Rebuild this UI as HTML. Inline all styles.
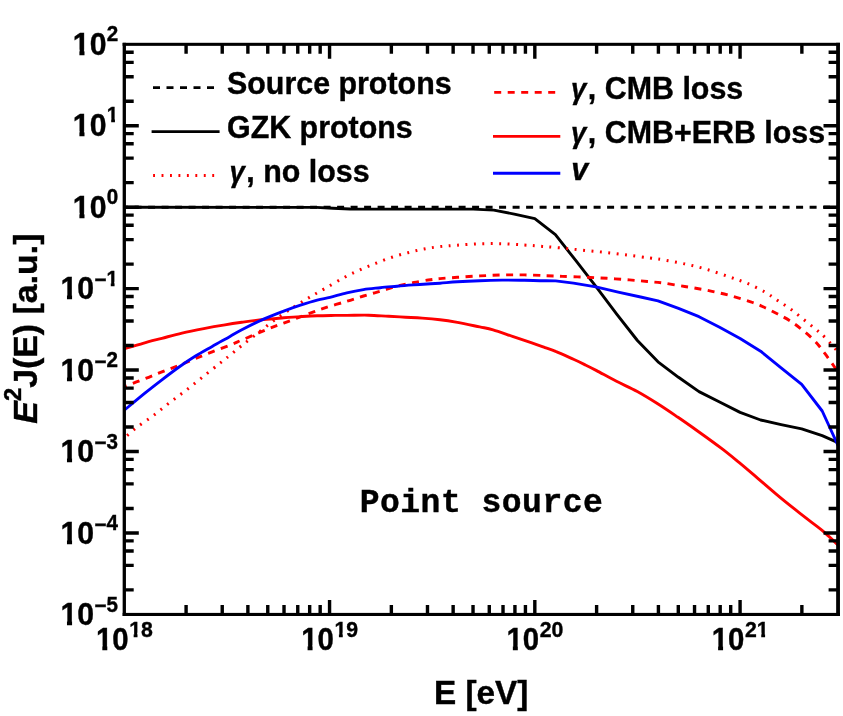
<!DOCTYPE html>
<html><head><meta charset="utf-8"><title>Point source</title>
<style>html,body{margin:0;padding:0;background:#fff;}body{width:843px;height:716px;overflow:hidden;}svg{display:block;}svg text{stroke:#000;stroke-width:0.4px;font-family:"Liberation Sans",sans-serif;font-weight:bold;fill:#000;}.m{font-family:"Liberation Mono",monospace;font-weight:bold;}.i{font-style:italic;}</style></head><body>
<svg style="will-change:transform" width="843" height="716" viewBox="0 0 843 716">
<rect width="843" height="716" fill="#fff"/>
<clipPath id="c"><rect x="124.3" y="44.3" width="713.7" height="570.1"/></clipPath>
<g clip-path="url(#c)" fill="none" stroke-linejoin="round">
<path d="M124.3,207.3 H838.0" stroke="#000" stroke-width="2.9" stroke-dasharray="7.0 6.5" stroke-dashoffset="-10.30"/>
<path d="M124.3,207.3 L316.0,207.4 L333.0,208.2 L350.0,209.0 L473.2,209.1 L493.8,210.1 L514.3,214.1 L534.8,218.6 L555.4,234.6 L575.9,260.7 L596.4,287.2 L616.9,314.3 L637.4,340.5 L658.0,361.8 L678.5,377.3 L699.0,391.6 L719.6,402.0 L740.1,412.4 L760.6,420.0 L781.1,424.6 L801.7,428.9 L822.2,435.7 L838.0,442.6" stroke="#000" stroke-width="2.9"/>
<path d="M124.3,438.0 C126.4,436.2 131.9,431.1 136.8,427.3 C141.7,423.6 147.9,419.7 153.5,415.5 C159.1,411.3 164.7,406.4 170.3,402.1 C175.9,397.8 181.5,393.8 187.1,389.5 C192.7,385.2 198.2,380.6 203.8,376.1 C209.4,371.6 216.2,366.2 220.6,362.7 C225.0,359.2 226.5,358.1 230.0,355.2 C233.5,352.3 237.1,349.3 241.8,345.5 C246.6,341.7 252.9,336.8 258.5,332.5 C264.1,328.2 269.7,323.6 275.3,319.5 C280.9,315.4 286.5,311.8 292.1,308.2 C297.7,304.6 303.2,301.0 308.8,297.7 C314.4,294.4 319.6,291.6 325.6,288.1 C331.7,284.7 339.2,280.1 345.1,277.0 C351.0,273.9 355.8,271.7 361.0,269.4 C366.2,267.1 370.9,265.2 376.1,263.2 C381.3,261.2 386.7,258.9 392.0,257.2 C397.3,255.4 402.7,254.1 408.0,252.7 C413.3,251.3 418.6,250.0 423.9,249.0 C429.2,248.0 434.4,247.2 440.0,246.6 C445.6,246.0 450.8,245.7 457.4,245.2 C464.0,244.7 472.2,244.1 479.7,243.8 C487.1,243.6 494.7,243.5 502.1,243.7 C509.6,243.9 517.7,244.6 524.4,245.0 C531.1,245.4 536.0,245.9 542.3,246.4 C548.6,246.9 555.3,247.4 562.4,248.1 C569.5,248.8 577.2,249.7 584.7,250.4 C592.2,251.2 599.7,251.8 607.1,252.6 C614.5,253.4 622.2,254.4 629.4,255.3 C636.5,256.2 644.5,257.3 650.0,258.0 C655.5,258.7 656.6,258.7 662.4,259.7 C668.2,260.7 677.2,262.3 684.7,263.9 C692.2,265.5 699.7,267.3 707.1,269.5 C714.5,271.7 722.7,274.6 729.4,276.9 C736.1,279.2 741.3,280.9 747.3,283.4 C753.2,285.9 760.0,289.2 765.1,292.1 C770.2,295.0 773.5,297.7 777.7,300.5 C781.9,303.3 786.1,305.8 790.3,308.9 C794.5,311.9 798.6,315.4 802.8,318.8 C807.0,322.2 811.6,325.8 815.4,329.0 C819.2,332.2 821.6,334.0 825.4,337.8 C829.2,341.6 835.9,349.6 838.0,352.0" stroke="#f00" stroke-width="3.0" stroke-dasharray="1.9 6.52" stroke-dashoffset="-3.8"/>
<path d="M124.3,386.5 C127.8,385.2 138.9,381.0 145.2,378.6 C151.5,376.2 156.3,374.1 161.9,371.9 C167.5,369.7 173.1,367.7 178.7,365.5 C184.3,363.3 189.9,360.8 195.5,358.5 C201.1,356.2 206.4,354.0 212.2,351.8 C217.9,349.6 225.1,347.1 230.0,345.1 C234.9,343.2 237.1,342.1 241.8,340.1 C246.6,338.1 252.9,335.2 258.5,332.9 C264.1,330.6 269.7,328.3 275.3,326.2 C280.9,324.1 286.5,322.1 292.1,320.0 C297.7,317.9 303.2,315.7 308.8,313.6 C314.4,311.6 319.3,309.8 325.6,307.7 C331.9,305.6 340.5,303.2 346.8,301.3 C353.1,299.4 357.9,297.7 363.5,296.0 C369.1,294.3 374.7,292.8 380.3,291.2 C385.9,289.6 391.5,287.6 397.1,286.2 C402.7,284.8 408.2,283.6 413.8,282.5 C419.4,281.4 426.2,280.3 430.6,279.7 C435.0,279.1 435.5,279.0 440.0,278.6 C444.5,278.2 450.8,277.8 457.4,277.3 C464.0,276.9 472.2,276.3 479.7,275.9 C487.1,275.5 494.7,275.2 502.1,275.0 C509.6,274.8 517.0,274.8 524.4,274.9 C531.8,275.0 540.4,275.4 546.7,275.7 C553.0,275.9 556.1,276.1 562.4,276.4 C568.7,276.6 577.2,276.9 584.7,277.2 C592.2,277.5 599.7,277.9 607.1,278.3 C614.5,278.8 622.7,279.4 629.4,279.9 C636.1,280.4 641.8,281.0 647.3,281.5 C652.8,282.0 656.2,282.1 662.4,282.9 C668.6,283.7 677.2,285.3 684.7,286.5 C692.2,287.7 699.7,288.8 707.1,290.3 C714.5,291.8 721.8,293.4 729.4,295.4 C737.0,297.4 746.6,300.4 752.6,302.5 C758.6,304.6 760.9,305.8 765.1,307.7 C769.3,309.6 773.5,311.8 777.7,314.0 C781.9,316.2 786.1,318.3 790.3,321.0 C794.5,323.7 798.6,326.9 802.8,330.3 C807.0,333.7 811.6,337.6 815.4,341.6 C819.2,345.6 821.6,349.1 825.4,354.2 C829.2,359.3 835.9,369.0 838.0,372.0" stroke="#f00" stroke-width="2.9" stroke-dasharray="7.0 6.5" stroke-dashoffset="4.3"/>
<path d="M124.3,348.9 C127.4,348.0 136.7,345.1 143.0,343.3 C149.3,341.5 155.4,340.0 161.9,338.3 C168.4,336.6 175.0,334.7 182.0,333.1 C189.0,331.5 196.6,330.0 203.8,328.6 C211.0,327.2 218.7,325.9 225.0,324.9 C231.3,323.8 235.4,323.2 241.8,322.3 C248.2,321.4 256.6,320.2 263.6,319.5 C270.6,318.8 277.6,318.3 283.7,317.8 C289.8,317.3 294.9,316.9 300.5,316.6 C306.1,316.3 311.4,316.0 317.2,315.8 C322.9,315.6 330.1,315.5 335.0,315.4 C339.9,315.3 341.2,315.4 346.8,315.4 C352.4,315.4 361.6,315.0 368.6,315.2 C375.6,315.4 382.6,316.0 388.7,316.3 C394.8,316.6 399.9,316.9 405.5,317.2 C411.1,317.5 416.4,317.7 422.2,318.1 C427.9,318.5 434.1,319.0 440.0,319.7 C445.9,320.4 450.8,321.2 457.4,322.4 C464.0,323.6 473.8,325.7 479.7,326.9 C485.6,328.1 487.5,328.2 493.1,329.8 C498.7,331.4 506.9,334.5 513.2,336.6 C519.5,338.7 525.8,340.8 531.1,342.6 C536.4,344.4 540.9,346.1 545.0,347.6 C549.1,349.1 550.9,349.4 555.6,351.4 C560.4,353.3 568.6,357.1 573.5,359.3 C578.4,361.5 580.9,362.7 584.7,364.6 C588.6,366.5 591.3,367.8 596.6,370.6 C601.9,373.4 609.7,377.8 616.5,381.3 C623.3,384.8 630.4,387.7 637.3,391.5 C644.2,395.3 651.3,399.7 658.1,404.0 C664.9,408.3 671.4,412.8 678.0,417.3 C684.6,421.8 690.7,426.1 697.9,431.2 C705.1,436.3 714.3,442.9 721.2,448.2 C728.1,453.4 733.2,457.7 739.3,462.7 C745.3,467.7 751.5,473.0 757.5,478.1 C763.5,483.2 769.6,488.6 775.6,493.6 C781.6,498.7 787.7,503.6 793.8,508.4 C799.9,513.2 806.9,518.6 812.0,522.6 C817.1,526.6 820.4,528.9 824.7,532.6 C829.0,536.3 835.8,542.9 838.0,545.0" stroke="#f00" stroke-width="2.9"/>
<path d="M124.3,410.2 C127.8,407.3 138.9,398.0 145.2,392.9 C151.5,387.8 156.3,384.1 161.9,379.8 C167.5,375.5 173.1,371.2 178.7,367.2 C184.3,363.2 189.9,359.5 195.5,356.0 C201.1,352.5 206.4,349.7 212.2,346.4 C217.9,343.1 225.1,339.2 230.0,336.4 C234.9,333.6 236.2,332.6 241.8,329.7 C247.4,326.8 256.6,322.2 263.6,319.1 C270.6,316.0 277.6,313.4 283.7,311.1 C289.8,308.8 294.9,307.0 300.5,305.2 C306.1,303.4 312.3,301.5 317.2,300.2 C322.1,298.9 325.1,298.5 330.0,297.3 C334.9,296.1 341.2,294.2 346.8,292.9 C352.4,291.6 357.9,290.5 363.5,289.6 C369.1,288.7 374.7,288.3 380.3,287.7 C385.9,287.1 391.5,286.7 397.1,286.2 C402.7,285.7 408.2,285.3 413.8,284.9 C419.4,284.5 426.2,284.1 430.6,283.8 C435.0,283.5 435.5,283.5 440.0,283.2 C444.5,282.9 450.8,282.2 457.4,281.8 C464.0,281.4 472.2,281.0 479.7,280.7 C487.1,280.4 494.7,280.2 502.1,280.1 C509.6,280.0 518.1,280.2 524.4,280.3 C530.7,280.4 534.8,280.6 540.0,280.7 C545.2,280.8 553.0,280.9 555.6,280.9 L573.5,283.1 L595.9,286.9 L618.2,292.1 L640.6,297.0 L658.0,300.8 L678.5,308.4 L699.0,316.7 L719.6,327.3 L740.1,338.5 L760.6,351.2 L781.1,367.8 L801.7,384.4 L822.2,411.0 L838.0,445.5" stroke="#00f" stroke-width="2.9"/>
</g>
<g stroke="#000" stroke-width="3.4" fill="none" stroke-linecap="butt">
</g><g fill="#000">
<rect x="122.65" y="42.8" width="3.3" height="573.2"/>
<rect x="836.15" y="42.8" width="3.8" height="573.2"/>
<rect x="122.65" y="42.8" width="717.3" height="3.05"/>
<rect x="122.65" y="612.9" width="717.3" height="3.1"/>
</g><g stroke="#000" stroke-width="3.4" fill="none" stroke-linecap="butt">
<path d="M124.30,589.88 h9.4 M838.00,589.88 h-9.4 M124.30,565.37 h9.4 M838.00,565.37 h-9.4 M124.30,551.03 h9.4 M838.00,551.03 h-9.4 M124.30,540.85 h9.4 M838.00,540.85 h-9.4 M124.30,532.96 h14.5 M838.00,532.96 h-14.5 M124.30,508.44 h9.4 M838.00,508.44 h-9.4 M124.30,483.92 h9.4 M838.00,483.92 h-9.4 M124.30,469.58 h9.4 M838.00,469.58 h-9.4 M124.30,459.41 h9.4 M838.00,459.41 h-9.4 M124.30,451.51 h14.5 M838.00,451.51 h-14.5 M124.30,427.00 h9.4 M838.00,427.00 h-9.4 M124.30,402.48 h9.4 M838.00,402.48 h-9.4 M124.30,388.14 h9.4 M838.00,388.14 h-9.4 M124.30,377.96 h9.4 M838.00,377.96 h-9.4 M124.30,370.07 h14.5 M838.00,370.07 h-14.5 M124.30,345.55 h9.4 M838.00,345.55 h-9.4 M124.30,321.04 h9.4 M838.00,321.04 h-9.4 M124.30,306.70 h9.4 M838.00,306.70 h-9.4 M124.30,296.52 h9.4 M838.00,296.52 h-9.4 M124.30,288.63 h14.5 M838.00,288.63 h-14.5 M124.30,264.11 h9.4 M838.00,264.11 h-9.4 M124.30,239.60 h9.4 M838.00,239.60 h-9.4 M124.30,225.25 h9.4 M838.00,225.25 h-9.4 M124.30,215.08 h9.4 M838.00,215.08 h-9.4 M124.30,207.19 h14.5 M838.00,207.19 h-14.5 M124.30,182.67 h9.4 M838.00,182.67 h-9.4 M124.30,158.15 h9.4 M838.00,158.15 h-9.4 M124.30,143.81 h9.4 M838.00,143.81 h-9.4 M124.30,133.64 h9.4 M838.00,133.64 h-9.4 M124.30,125.74 h14.5 M838.00,125.74 h-14.5 M124.30,101.23 h9.4 M838.00,101.23 h-9.4 M124.30,76.71 h9.4 M838.00,76.71 h-9.4 M124.30,62.37 h9.4 M838.00,62.37 h-9.4 M124.30,52.19 h9.4 M838.00,52.19 h-9.4 M186.09,614.40 v-9.4 M186.09,44.30 v9.4 M222.23,614.40 v-9.4 M222.23,44.30 v9.4 M247.88,614.40 v-9.4 M247.88,44.30 v9.4 M267.77,614.40 v-9.4 M267.77,44.30 v9.4 M284.02,614.40 v-9.4 M284.02,44.30 v9.4 M297.76,614.40 v-9.4 M297.76,44.30 v9.4 M309.67,614.40 v-9.4 M309.67,44.30 v9.4 M320.17,614.40 v-9.4 M320.17,44.30 v9.4 M329.56,614.40 v-14.5 M329.56,44.30 v14.5 M391.35,614.40 v-9.4 M391.35,44.30 v9.4 M427.49,614.40 v-9.4 M427.49,44.30 v9.4 M453.14,614.40 v-9.4 M453.14,44.30 v9.4 M473.03,614.40 v-9.4 M473.03,44.30 v9.4 M489.28,614.40 v-9.4 M489.28,44.30 v9.4 M503.02,614.40 v-9.4 M503.02,44.30 v9.4 M514.93,614.40 v-9.4 M514.93,44.30 v9.4 M525.43,614.40 v-9.4 M525.43,44.30 v9.4 M534.82,614.40 v-14.5 M534.82,44.30 v14.5 M596.61,614.40 v-9.4 M596.61,44.30 v9.4 M632.75,614.40 v-9.4 M632.75,44.30 v9.4 M658.40,614.40 v-9.4 M658.40,44.30 v9.4 M678.29,614.40 v-9.4 M678.29,44.30 v9.4 M694.54,614.40 v-9.4 M694.54,44.30 v9.4 M708.28,614.40 v-9.4 M708.28,44.30 v9.4 M720.19,614.40 v-9.4 M720.19,44.30 v9.4 M730.69,614.40 v-9.4 M730.69,44.30 v9.4 M740.08,614.40 v-14.5 M740.08,44.30 v14.5 M801.87,614.40 v-9.4 M801.87,44.30 v9.4"/>
</g>
<text transform="translate(95.92,650.30) scale(0.9200,1)" font-size="32.00" text-anchor="start">10</text>
<text transform="translate(129.16,636.60) scale(0.9400,1)" font-size="22.60" text-anchor="start">18</text>
<text transform="translate(301.18,650.30) scale(0.9200,1)" font-size="32.00" text-anchor="start">10</text>
<text transform="translate(334.42,636.60) scale(0.9400,1)" font-size="22.60" text-anchor="start">19</text>
<text transform="translate(506.44,650.30) scale(0.9200,1)" font-size="32.00" text-anchor="start">10</text>
<text transform="translate(539.68,636.60) scale(0.9400,1)" font-size="22.60" text-anchor="start">20</text>
<text transform="translate(711.70,650.30) scale(0.9200,1)" font-size="32.00" text-anchor="start">10</text>
<text transform="translate(744.94,636.60) scale(0.9400,1)" font-size="22.60" text-anchor="start">21</text>
<text transform="translate(60.39,625.47) scale(0.9450,1)" font-size="32.00" text-anchor="start">10</text>
<text transform="translate(106.45,611.87) scale(0.9450,1)" font-size="21.80" text-anchor="start">5</text>
<text transform="translate(94.41,613.47) scale(0.9450,1)" font-size="21.80" text-anchor="start">−</text>
<text transform="translate(60.39,543.90) scale(0.9450,1)" font-size="32.00" text-anchor="start">10</text>
<text transform="translate(106.45,530.30) scale(0.9450,1)" font-size="21.80" text-anchor="start">4</text>
<text transform="translate(94.41,531.90) scale(0.9450,1)" font-size="21.80" text-anchor="start">−</text>
<text transform="translate(60.39,462.34) scale(0.9450,1)" font-size="32.00" text-anchor="start">10</text>
<text transform="translate(106.45,448.74) scale(0.9450,1)" font-size="21.80" text-anchor="start">3</text>
<text transform="translate(94.41,450.34) scale(0.9450,1)" font-size="21.80" text-anchor="start">−</text>
<text transform="translate(60.39,380.77) scale(0.9450,1)" font-size="32.00" text-anchor="start">10</text>
<text transform="translate(106.45,367.17) scale(0.9450,1)" font-size="21.80" text-anchor="start">2</text>
<text transform="translate(94.41,368.77) scale(0.9450,1)" font-size="21.80" text-anchor="start">−</text>
<text transform="translate(60.39,299.20) scale(0.9450,1)" font-size="32.00" text-anchor="start">10</text>
<text transform="translate(106.45,285.60) scale(0.9450,1)" font-size="21.80" text-anchor="start">1</text>
<text transform="translate(94.41,287.20) scale(0.9450,1)" font-size="21.80" text-anchor="start">−</text>
<text transform="translate(72.82,217.63) scale(0.9450,1)" font-size="32.00" text-anchor="start">10</text>
<text transform="translate(106.85,204.03) scale(0.9450,1)" font-size="21.80" text-anchor="start">0</text>
<text transform="translate(72.82,136.07) scale(0.9450,1)" font-size="32.00" text-anchor="start">10</text>
<text transform="translate(106.85,122.47) scale(0.9450,1)" font-size="21.80" text-anchor="start">1</text>
<text transform="translate(72.82,54.50) scale(0.9450,1)" font-size="32.00" text-anchor="start">10</text>
<text transform="translate(106.85,40.90) scale(0.9450,1)" font-size="21.80" text-anchor="start">2</text>
<g fill="#fff"><rect x="96.49" y="645.43" width="5.84" height="7.07"/><rect x="107.29" y="645.43" width="5.29" height="7.07"/><rect x="129.18" y="632.69" width="4.47" height="6.11"/><rect x="137.50" y="632.69" width="3.90" height="6.11"/><rect x="301.75" y="645.43" width="5.84" height="7.07"/><rect x="312.55" y="645.43" width="5.29" height="7.07"/><rect x="334.44" y="632.69" width="4.47" height="6.11"/><rect x="342.76" y="632.69" width="3.90" height="6.11"/><rect x="507.01" y="645.43" width="5.84" height="7.07"/><rect x="517.81" y="645.43" width="5.29" height="7.07"/><rect x="712.27" y="645.43" width="5.84" height="7.07"/><rect x="723.07" y="645.43" width="5.29" height="7.07"/><rect x="756.77" y="632.69" width="4.47" height="6.11"/><rect x="765.09" y="632.69" width="3.90" height="6.11"/><rect x="60.97" y="620.60" width="6.00" height="7.07"/><rect x="72.07" y="620.60" width="5.43" height="7.07"/><rect x="60.97" y="539.04" width="6.00" height="7.07"/><rect x="72.07" y="539.04" width="5.43" height="7.07"/><rect x="60.97" y="457.47" width="6.00" height="7.07"/><rect x="72.07" y="457.47" width="5.43" height="7.07"/><rect x="60.97" y="375.90" width="6.00" height="7.07"/><rect x="72.07" y="375.90" width="5.43" height="7.07"/><rect x="60.97" y="294.34" width="6.00" height="7.07"/><rect x="72.07" y="294.34" width="5.43" height="7.07"/><rect x="106.42" y="281.78" width="4.36" height="6.02"/><rect x="114.55" y="281.78" width="3.76" height="6.02"/><rect x="73.40" y="212.77" width="6.00" height="7.07"/><rect x="84.50" y="212.77" width="5.43" height="7.07"/><rect x="73.40" y="131.20" width="6.00" height="7.07"/><rect x="84.50" y="131.20" width="5.43" height="7.07"/><rect x="106.82" y="118.64" width="4.36" height="6.02"/><rect x="114.95" y="118.64" width="3.76" height="6.02"/><rect x="73.40" y="49.63" width="6.00" height="7.07"/><rect x="84.50" y="49.63" width="5.43" height="7.07"/></g>
<text transform="translate(481.20,703.80) scale(0.9950,1)" font-size="33.50" text-anchor="middle">E [eV]</text>
<g transform="translate(37.3,328.6) rotate(-90) scale(1.012,1)"><text x="0" y="0" font-size="33.5" text-anchor="middle"><tspan class="i">E</tspan><tspan font-size="23.5" dy="-16.3">2</tspan><tspan dy="16.3">J(E) [a.u.]</tspan></text></g>
<text class="m" x="481.5" y="512.3" font-size="33" text-anchor="middle" letter-spacing="0.5" stroke="#000" stroke-width="0.5">Point source</text>
<g fill="none">
<path d="M153,87.6 H214.2" stroke="#000" stroke-width="2.9" stroke-dasharray="7.0 6.5"/>
<path d="M151.6,131.6 H219.6" stroke="#000" stroke-width="2.9"/>
<path d="M153.1,175.4 H214.4" stroke="#f00" stroke-width="3.0" stroke-dasharray="1.9 6.55"/>
<path d="M494.2,92.4 H555.5" stroke="#f00" stroke-width="2.9" stroke-dasharray="7.0 6.5"/>
<path d="M493,136.4 H560.3" stroke="#f00" stroke-width="2.9"/>
<path d="M493,173.3 H560.3" stroke="#00f" stroke-width="2.9"/>
</g>
<text transform="translate(227.00,94.20) scale(0.9500,1)" font-size="32.00" text-anchor="start">Source protons</text>
<text transform="translate(227.00,138.10) scale(0.9500,1)" font-size="32.00" text-anchor="start">GZK protons</text>
<text transform="translate(229.50,182.30) scale(0.9500,1)" font-size="32.00" text-anchor="start"><tspan class="i" font-size="29">γ</tspan><tspan dx="1.6">, no loss</tspan></text>
<text transform="translate(571.00,98.70) scale(0.9500,1)" font-size="32.00" text-anchor="start"><tspan class="i" font-size="29">γ</tspan><tspan dx="1.6">, CMB loss</tspan></text>
<text transform="translate(571.00,142.50) scale(0.9500,1)" font-size="32.00" text-anchor="start"><tspan class="i" font-size="29">γ</tspan><tspan dx="1.6">, CMB+ERB loss</tspan></text>
<text transform="translate(571.30,179.60) scale(0.9500,1)" font-size="32.00" text-anchor="start"><tspan class="i">v</tspan></text>
</svg></body></html>
